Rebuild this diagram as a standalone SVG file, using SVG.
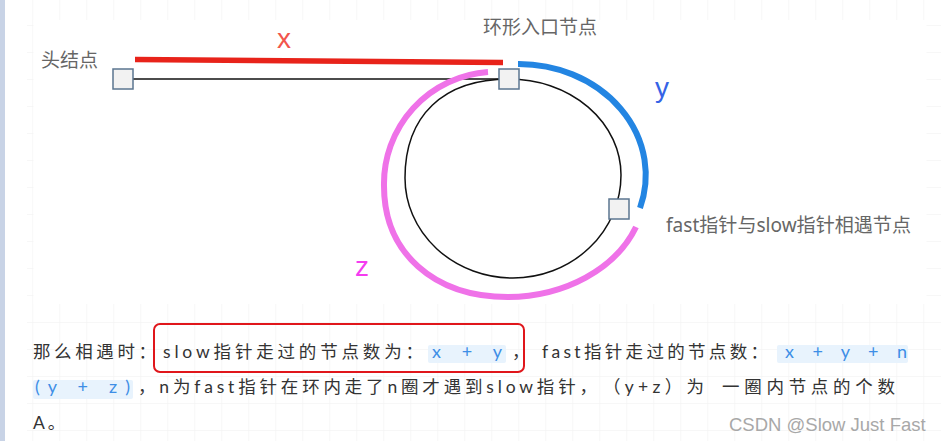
<svg xmlns="http://www.w3.org/2000/svg" width="941" height="441" viewBox="0 0 941 441">
<defs>
<pattern id="grid" x="5.3" y="-2" width="27" height="27" patternUnits="userSpaceOnUse">
<path d="M27 0 L0 0 L0 27" fill="none" stroke="#efefef" stroke-width="1"/>
</pattern>
<style>
.node{fill:#f2f2f2;stroke:#5b7690;stroke-width:1.5}
.lbl{font-family:"Noto Sans","Noto Sans CJK SC",sans-serif;font-size:19px;fill:#666}
.var{font-family:"Liberation Sans",Arial,sans-serif;font-size:28px}
.body{font-family:"Lato","Noto Sans CJK SC",sans-serif;font-size:17.5px;fill:#333;letter-spacing:3px}
.code{font-family:"Lato","Noto Sans CJK SC",sans-serif;font-size:18px;fill:#3d8ee6}
.codebg{fill:#e8f3fd}
.arc{fill:none;stroke-width:6}
</style>
</defs>
<rect x="0" y="0" width="941" height="441" fill="#ffffff"/>
<rect x="27" y="0" width="914" height="441" fill="url(#grid)"/>
<rect x="0" y="0" width="5" height="441" fill="#c8d3e6"/>
<rect x="33.5" y="20" width="893" height="284" fill="#ffffff"/>

<g id="connectors">
<line x1="133" y1="79" x2="500" y2="79" stroke="#111" stroke-width="1.5"/>
<path d="M509 79 A112 96 0 0 1 621 175 A108 103 0 0 1 513 278 A108 100 0 0 1 405 178 C405 116 443 79 509 79 Z" fill="none" stroke="#111" stroke-width="1.5"/>
<path d="M135 59.5 L503 62.5" stroke="#e8231a" stroke-width="5.5" fill="none"/>
<path class="arc" d="M488 72 A112 112 0 0 0 384 186 C384 252.6 433.6 297 508 297 A138 109 0 0 0 636 227" stroke="#ef72e8"/>
<path class="arc" d="M518 64 A127 111 0 0 1 640 208" stroke="#2385e2"/>
</g>

<g id="head">
<rect class="node" x="113" y="69" width="20" height="20"/>
<text class="lbl" x="41" y="67">头结点</text>
</g>
<g id="entry">
<rect class="node" x="499" y="69" width="20" height="20"/>
<text class="lbl" x="483" y="34">环形入口节点</text>
</g>
<g id="meet">
<rect class="node" x="609" y="199" width="20" height="20"/>
<text class="lbl" x="666" y="232" font-size="18" textLength="245" lengthAdjust="spacingAndGlyphs">fast指针与slow指针相遇节点</text>
</g>

<g id="labels">
<text class="var" x="277" y="48" fill="#f2554c">x</text>
<text class="var" x="655" y="97" fill="#3563e6">y</text>
<text class="var" x="355" y="276" fill="#f53cf0">z</text>
</g>

<g id="text">
<text class="body" x="33" y="358" textLength="126" lengthAdjust="spacing">那么相遇时：</text>
<rect x="154" y="324" width="370" height="48" rx="6" fill="none" stroke="#e0161b" stroke-width="2"/>
<text class="body" x="163" y="358" textLength="263" lengthAdjust="spacing">slow指针走过的节点数为：</text>
<rect class="codebg" x="428" y="345" width="78" height="18" rx="2"/>
<text class="code" x="432" y="358" textLength="70" lengthAdjust="spacing">x + y</text>
<text class="body" x="512" y="358">，</text>
<text class="body" x="542" y="358" textLength="229" lengthAdjust="spacing">fast指针走过的节点数：</text>
<rect class="codebg" x="777" y="345" width="131" height="18" rx="2"/>
<text class="code" x="785" y="358" textLength="122" lengthAdjust="spacing">x + y + n</text>

<rect class="codebg" x="33" y="380" width="100" height="19" rx="2"/>
<text class="code" x="35" y="393" textLength="95" lengthAdjust="spacing">(y + z)</text>
<text class="body" x="138" y="393" textLength="462" lengthAdjust="spacing">，n为fast指针在环内走了n圈才遇到slow指针，</text>
<text class="body" x="603" y="393" textLength="104" lengthAdjust="spacing">（y+z）为</text>
<text class="body" x="722" y="393" textLength="176" lengthAdjust="spacing">一圈内节点的个数</text>
<text class="body" x="33" y="429" font-size="18">A。</text>

<text x="729" y="431" font-family="Liberation Sans, Arial, sans-serif" font-size="18.5" fill="#a8a8a8">CSDN @Slow Just Fast</text>
</g>
</svg>
